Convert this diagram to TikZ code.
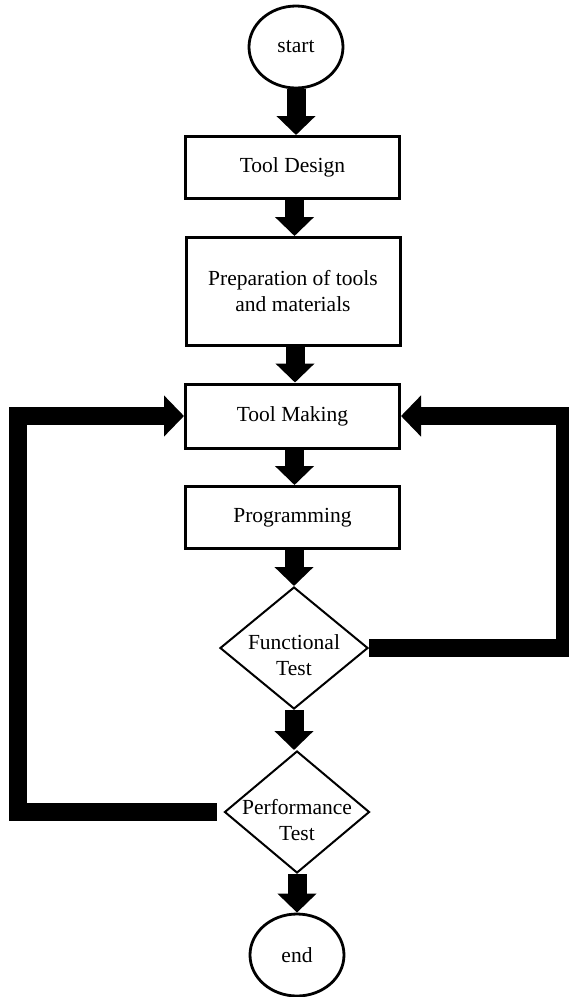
\documentclass[tikz,border=0pt]{standalone}
\usepackage{fontspec}
\setmainfont{Liberation Serif}
\usetikzlibrary{shapes.geometric,arrows.meta}
\begin{document}
\begin{tikzpicture}[x=1pt,y=-1pt,
  txtfont/.style={font=\fontsize{21.5}{26}\selectfont, align=center},
  box/.style={draw, line width=3pt, minimum width=214pt, inner sep=0pt, txtfont},
  oval/.style={draw, ellipse, line width=2.8pt, minimum width=94pt, minimum height=82pt, inner sep=0pt, txtfont},
  dec/.style={draw, diamond, line width=2pt, minimum width=148pt, minimum height=122pt, inner sep=0pt},
  label/.style={txtfont, inner sep=0pt},
  flow/.style={line width=19pt, -{Triangle[width=38pt,length=19pt]}},
  back/.style={line width=18pt, line join=miter, -{Triangle[width=40pt,length=20pt]}}
]
\clip (0,0) rectangle (569,997);
\fill[white] (0,0) rectangle (569,997);

\node[oval] (start) at (296,47) {start};
\node[box, minimum height=62pt] (design) at (292.5,167.5) {Tool Design};
\node[box, minimum height=108pt] (prep) at (293,291.5) {Preparation of tools\\and materials};
\node[box, minimum height=64pt] (make) at (292.5,416) {Tool Making};
\node[box, minimum height=62pt] (prog) at (292.5,517.5) {Programming};
\node[dec] (func) at (294,648) {};
\node[label] at (294,655) {Functional\\Test};
\node[dec, minimum width=145pt] (perf) at (297,812) {};
\node[label] at (297,820) {Performance\\Test};
\node[oval] (end) at (297,955) {end};

\coordinate (lc) at (18,412);
\coordinate (rc) at (565,412);

\draw[flow] (start.south) -- (start.south |- design.north);
\draw[flow] ([xshift=2pt]design.south) -- ([xshift=2pt]design.south |- prep.north);
\draw[flow] ([xshift=2pt]prep.south) -- ([xshift=2pt]prep.south |- make.north);
\draw[flow] ([xshift=2pt]make.south) -- ([xshift=2pt]make.south |- prog.north);
\draw[flow] (func.north |- prog.south) -- (func.north);
\draw[flow] (func.south) -- (func.south |- perf.north);
\draw[flow] (perf.south) -- (perf.south |- end.north);

\draw[back] ([xshift=-7pt]perf.west) -| (lc |- make.west) -- (make.west);
\draw[back] (func.east) -| (rc |- make.east) -- (make.east);
\end{tikzpicture}
\end{document}
